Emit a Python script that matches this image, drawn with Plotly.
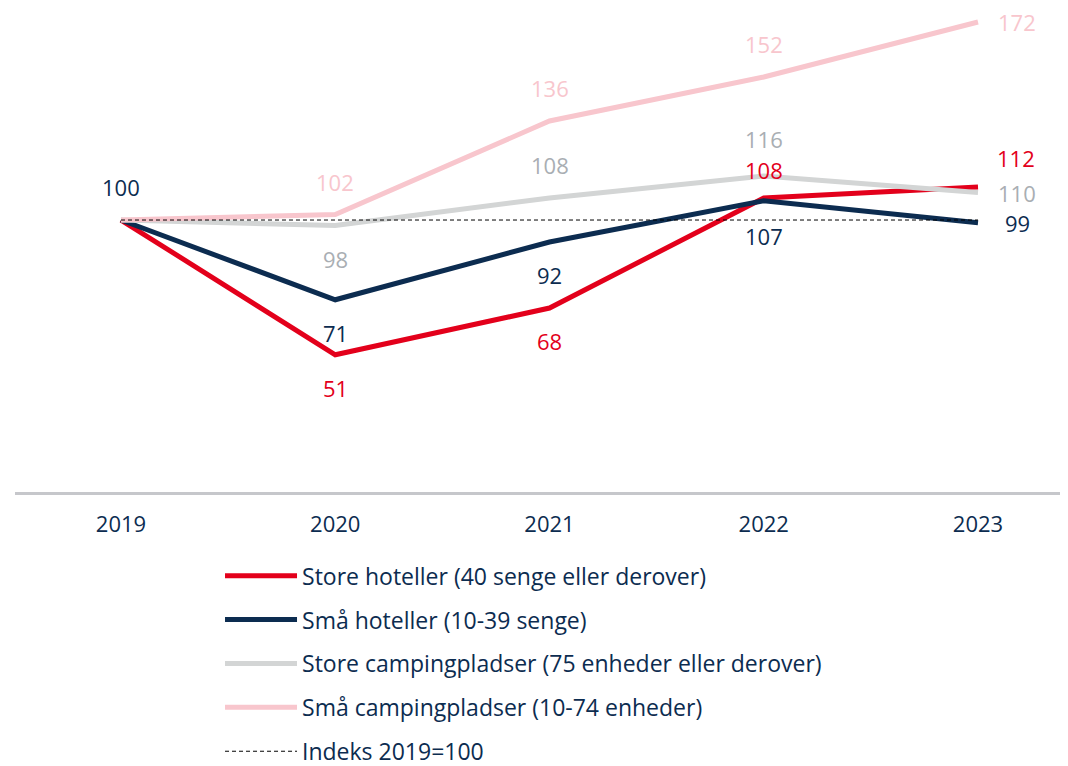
import plotly.graph_objects as go

years = [2019, 2020, 2021, 2022, 2023]

series_names = [
    "Store hoteller (40 senge eller derover)",
    "Små hoteller (10-39 senge)",
    "Store campingpladser (75 enheder eller derover)",
    "Små campingpladser (10-74 enheder)",
]
store_hoteller = [100, 51, 68, 108, 112]
smaa_hoteller = [100, 71, 92, 107, 99]
store_camping = [100, 98, 108, 116, 110]
smaa_camping = [100, 102, 136, 152, 172]
index_name = "Indeks 2019=100"
index_values = [100, 100, 100, 100, 100]

line_colors = ["#e3001b", "#0c2c50", "#d3d5d5", "#f8c6cd"]
label_colors = ["#e3001b", "#0c2c50", "#a9aeb3", "#f8c6cd"]
# label placement per point: 'a' above, 'b' below, 'r' right, '' none
label_pos = [
    ["", "b", "b", "a", "a"],
    ["a", "b", "b", "b", "r"],
    ["", "b", "a", "a", "r"],
    ["", "a", "a", "a", "r"],
]

NAVY = "#0c2c50"
FONT = "Open Sans"

fig = go.Figure()
all_series = [store_hoteller, smaa_hoteller, store_camping, smaa_camping]
for i, (name, vals) in enumerate(zip(series_names, all_series)):
    fig.add_trace(go.Scatter(
        x=years, y=vals, mode="lines", name=name,
        line=dict(color=line_colors[i], width=5),
        legendgroup=f"g{i}",
    ))
fig.add_trace(go.Scatter(
    x=years, y=index_values, mode="lines", name=index_name,
    line=dict(color="black", width=1, dash="4px,3px"),
    legendgroup="g4",
))

for i, vals in enumerate(all_series):
    for j, v in enumerate(vals):
        p = label_pos[i][j]
        if not p:
            continue
        xs, ys = 0, 0
        if p == "a":
            ys = 33
        elif p == "b":
            ys = -33
        else:
            xs = 39
        if i == 0 and j == 4:
            ys = 29
            xs = 38
        if i == 2 and j == 3:
            ys = 37
        if i == 0 and j == 3:
            ys = 28
        if i == 1 and j == 3:
            ys = -35
        fig.add_annotation(
            x=years[j], y=v, text=str(v), showarrow=False,
            xshift=xs, yshift=ys,
            font=dict(family=FONT, size=22, color=label_colors[i]),
        )

fig.update_layout(
    width=1060, height=758,
    margin=dict(l=7, r=0, t=0, b=274, autoexpand=False),
    plot_bgcolor="white", paper_bgcolor="white",
    font=dict(family=FONT, size=22, color=NAVY),
    showlegend=True,
    legend=dict(
        x=0.1947, xanchor="left", y=-0.1285, yanchor="top",
        orientation="v", traceorder="grouped", tracegroupgap=11,
        itemwidth=72, font=dict(family=FONT, size=23, color=NAVY),
        bgcolor="rgba(0,0,0,0)",
    ),
    xaxis=dict(
        range=[2018.5053, 2023.42], tickmode="array", tickvals=years,
        ticktext=[str(y) for y in years], showgrid=False, zeroline=False,
        showline=True, linecolor="#c6c7cb", linewidth=2.5,
        ticks="", ticklabelstandoff=11,
        tickfont=dict(family=FONT, size=22, color=NAVY),
    ),
    yaxis=dict(range=[1.1, 177.1], visible=False, showgrid=False),
)

fig.write_html("out.html")
